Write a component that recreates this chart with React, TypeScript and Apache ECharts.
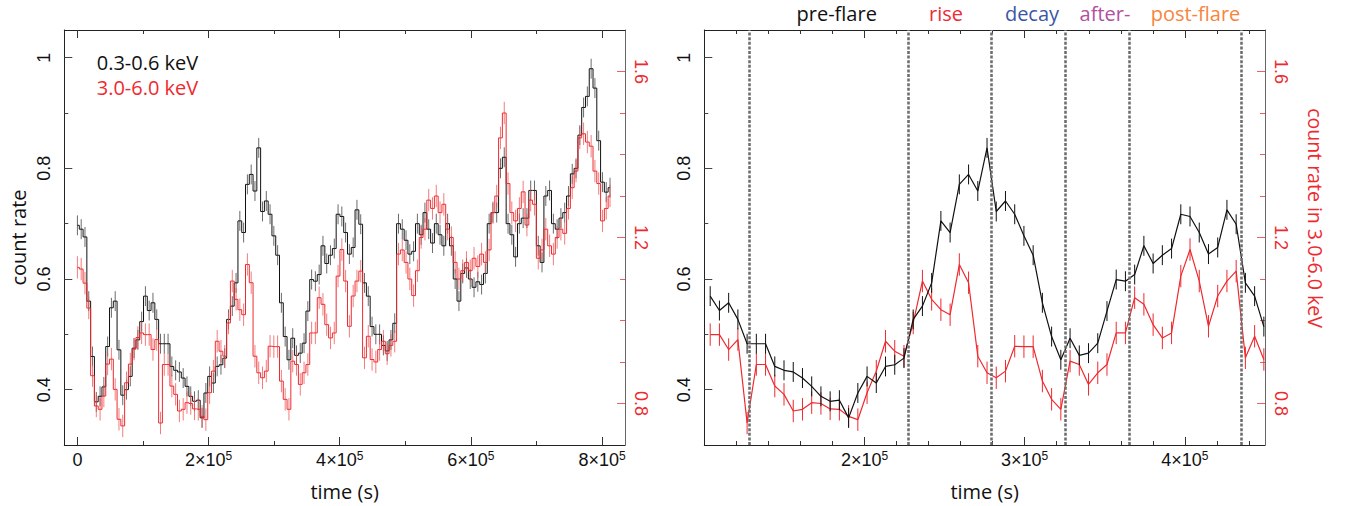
import React, { useEffect, useRef } from "react";
import * as echarts from "echarts";

// ---------------- data ----------------
const BIN = 5760; // s, light-curve bin width
const FLARE_START_INDEX = 18; // first bin shown in the zoomed panel

// 0.3-0.6 keV count rate
const SOFT_PRE = [0.697, 0.69, 0.676, 0.56, 0.46, 0.378, 0.388, 0.405, 0.478, 0.548, 0.56, 0.472, 0.39, 0.4, 0.424, 0.475, 0.49, 0.523];
const SOFT_FLARE = [
  0.569, 0.543, 0.557, 0.527, 0.483, 0.483, 0.483, 0.442, 0.435, 0.432,
  0.421, 0.406, 0.388, 0.379, 0.381, 0.349, 0.394, 0.424, 0.412, 0.442,
  0.445, 0.457, 0.527, 0.551, 0.593, 0.705, 0.684, 0.771, 0.789, 0.759,
  0.837, 0.722, 0.741, 0.717, 0.678, 0.643, 0.557, 0.496, 0.454, 0.493,
  0.462, 0.466, 0.484, 0.542, 0.599, 0.596, 0.608, 0.66, 0.628, 0.643,
  0.655, 0.717, 0.713, 0.684, 0.645, 0.657, 0.725, 0.699, 0.593, 0.569,
  0.514,
];
const SOFT_POST = [
  0.5, 0.5, 0.48, 0.47, 0.49, 0.52, 0.7, 0.69, 0.67, 0.645,
  0.65, 0.7, 0.68, 0.72, 0.69, 0.665, 0.7, 0.68, 0.66, 0.7,
  0.66, 0.6, 0.56, 0.61, 0.62, 0.6, 0.585, 0.595, 0.59, 0.61,
  0.7, 0.72, 0.72, 0.8, 0.82, 0.7, 0.68, 0.64, 0.7, 0.71,
  0.71, 0.76, 0.76, 0.66, 0.63, 0.75, 0.76, 0.7, 0.69, 0.71,
  0.72, 0.75, 0.79, 0.8, 0.86, 0.91, 0.93, 0.98, 0.945, 0.85,
  0.775, 0.757, 0.765,
];

// 3.0-6.0 keV count rate
const HARD_PRE = [1.128, 1.124, 1.09, 1.03, 0.867, 0.794, 0.786, 0.818, 0.895, 0.907, 0.834, 0.762, 0.746, 0.85, 0.895, 0.931, 0.959, 0.97];
const HARD_FLARE = [
  0.966, 0.966, 0.93, 0.954, 0.753, 0.894, 0.894, 0.842, 0.822, 0.782,
  0.786, 0.802, 0.8, 0.787, 0.786, 0.769, 0.761, 0.826, 0.878, 0.95,
  0.926, 0.914, 0.994, 1.095, 1.051, 1.026, 1.014, 1.135, 1.091, 0.914,
  0.874, 0.862, 0.878, 0.938, 0.937, 0.937, 0.854, 0.81, 0.786, 0.902,
  0.894, 0.846, 0.874, 0.894, 0.97, 0.97, 1.055, 1.039, 0.99, 0.958,
  0.97, 1.107, 1.171, 1.095, 0.986, 1.059, 1.095, 1.119, 0.91, 0.962,
  0.906,
];
const HARD_POST = [
  0.9, 0.93, 0.95, 0.92, 0.94, 0.95, 1.16, 1.17, 1.14, 1.1,
  1.06, 1.12, 1.2, 1.22, 1.29, 1.27, 1.3, 1.26, 1.28, 1.22,
  1.2, 1.14, 1.1, 1.12, 1.14, 1.12, 1.15, 1.13, 1.16, 1.14,
  1.17, 1.26, 1.3, 1.44, 1.5, 1.33, 1.26, 1.24, 1.27, 1.31,
  1.23, 1.29, 1.28, 1.15, 1.17, 1.22, 1.18, 1.16, 1.2, 1.22,
  1.21, 1.27, 1.32, 1.36, 1.44, 1.45, 1.43, 1.42, 1.36, 1.33,
  1.24, 1.27, 1.3,
];
const SOFT_ERR = 0.018;
const HARD_ERR = 0.027;

// axis ticks
const LEFT_X_MAJOR = [0, 200000, 400000, 600000, 800000];
const LEFT_X_MINOR = [100000, 300000, 500000, 700000];
const RIGHT_X_MAJOR = [200000, 300000, 400000];
const RIGHT_X_MINOR = [120000, 140000, 160000, 180000, 220000, 240000, 260000, 280000, 320000, 340000, 360000, 380000, 420000, 440000];
const SOFT_MAJOR = [0.4, 0.6, 0.8, 1.0];
const SOFT_MINOR = [0.5, 0.7, 0.9];
const HARD_MAJOR = [0.8, 1.2, 1.6];
const HARD_MINOR = [0.9, 1.0, 1.1, 1.3, 1.4, 1.5];

// flare phases (zoomed panel)
const PHASE_BOUNDS = [128100, 227000, 279000, 325200, 365500, 435000];
const PHASE_LABELS = ["pre-flare", "rise", "decay", "after-", "post-flare"];
const LEGEND_LABELS = ["0.3-0.6 keV", "3.0-6.0 keV"];
const HARD_TITLE = "count rate in 3.0-6.0 keV";

// ---------------- styling ----------------
const NUM_FONT = "Liberation Sans";
const TXT_FONT = "Open Sans";
const RED = "#ee2a2f";
const BLACK = "#111111";
const PHASE_COLORS = ["#111111", "#ee2b34", "#3b56a6", "#b24f9f", "#f8853b"];
const PHASE_X = [836.7, 946, 1032, 1105, 1195.5];

const soft = [...SOFT_PRE, ...SOFT_FLARE, ...SOFT_POST];
const hard = [...HARD_PRE, ...HARD_FLARE, ...HARD_POST];
const softAll = soft.map((v, i) => [i * BIN, v]);
const hardAll = hard.map((v, i) => [i * BIN, v]);
const softFlare = SOFT_FLARE.map((v, k) => [(k + FLARE_START_INDEX) * BIN, v]);
const hardFlare = HARD_FLARE.map((v, k) => [(k + FLARE_START_INDEX) * BIN, v]);

const xFmt = (v: number) => {
  if (v === 0) return "{n|0}";
  return `{n|${Math.round(v / 1e5)}×10}{s|5}`;
};
const yFmt = (v: number) => String(Math.round(v * 10) / 10);

function xAxes(grid: number, min: number, max: number, major: number[], minor: number[], withName: boolean) {
  const base = {
    type: "value",
    gridIndex: grid,
    min,
    max,
    splitLine: { show: false },
    axisLine: { onZero: false, show: true, lineStyle: { color: "#222", width: 1 } },
  };
  return [
    {
      ...base,
      position: "bottom",
      axisTick: { show: true, inside: true, length: 8, customValues: major, lineStyle: { color: "#333" } },
      axisLabel: {
        show: true,
        customValues: major,
        margin: 5,
        formatter: xFmt,
        rich: {
          n: { fontFamily: NUM_FONT, fontSize: 18, lineHeight: 20, color: BLACK },
          s: { fontFamily: NUM_FONT, fontSize: 12, lineHeight: 12, verticalAlign: "top", color: BLACK },
        },
      },
      name: withName ? "time (s)" : "",
      nameLocation: "middle",
      nameGap: 36,
      nameTextStyle: { fontFamily: TXT_FONT, fontSize: 20, color: BLACK },
    },
    {
      ...base,
      position: "bottom",
      axisLine: { show: false, onZero: false },
      axisTick: { show: true, inside: true, length: 4, customValues: minor, lineStyle: { color: "#333" } },
      axisLabel: { show: false },
    },
    {
      ...base,
      position: "top",
      axisTick: { show: true, inside: true, length: 8, customValues: major, lineStyle: { color: "#333" } },
      axisLabel: { show: false },
    },
    {
      ...base,
      position: "top",
      axisLine: { show: false, onZero: false },
      axisTick: { show: true, inside: true, length: 4, customValues: minor, lineStyle: { color: "#333" } },
      axisLabel: { show: false },
    },
  ];
}

function yAxes(grid: number, leftName: string) {
  return [
    {
      type: "value",
      gridIndex: grid,
      position: "left",
      min: 0.3,
      max: 1.05,
      splitLine: { show: false },
      axisLine: { show: true, onZero: false, lineStyle: { color: "#222" } },
      axisTick: { show: true, inside: true, length: 8, customValues: SOFT_MAJOR, lineStyle: { color: "#444" } },
      axisLabel: {
        show: true,
        customValues: SOFT_MAJOR,
        rotate: 90,
        margin: 11,
        formatter: yFmt,
        fontFamily: NUM_FONT,
        fontSize: 18,
        lineHeight: 18,
        color: BLACK,
      },
      name: leftName,
      nameLocation: "middle",
      nameRotate: 90,
      nameGap: 36,
      nameTextStyle: { fontFamily: TXT_FONT, fontSize: 20, color: BLACK },
    },
    {
      type: "value",
      gridIndex: grid,
      position: "left",
      min: 0.3,
      max: 1.05,
      splitLine: { show: false },
      axisLine: { show: false, onZero: false },
      axisTick: { show: true, inside: true, length: 4, customValues: SOFT_MINOR, lineStyle: { color: "#444" } },
      axisLabel: { show: false },
    },
    {
      type: "value",
      gridIndex: grid,
      position: "right",
      min: 0.7,
      max: 1.7,
      splitLine: { show: false },
      axisLine: { show: true, onZero: false, lineStyle: { color: "#666" } },
      axisTick: { show: true, inside: true, length: 8, customValues: HARD_MAJOR, lineStyle: { color: "#f06060" } },
      axisLabel: {
        show: true,
        customValues: HARD_MAJOR,
        rotate: -90,
        margin: 7,
        formatter: yFmt,
        fontFamily: NUM_FONT,
        fontSize: 18,
        lineHeight: 18,
        color: RED,
      },
    },
    {
      type: "value",
      gridIndex: grid,
      position: "right",
      min: 0.7,
      max: 1.7,
      splitLine: { show: false },
      axisLine: { show: false, onZero: false },
      axisTick: { show: true, inside: true, length: 5, customValues: HARD_MINOR, lineStyle: { color: "#f06060" } },
      axisLabel: { show: false },
    },
  ];
}

function errorSeries(data: number[][], err: number, xi: number, yi: number, color: string, z: number) {
  return {
    type: "custom",
    xAxisIndex: xi,
    yAxisIndex: yi,
    clip: true,
    z,
    silent: true,
    encode: { x: 0, y: 1 },
    data: data.map((d) => [d[0], d[1], err]),
    renderItem: (_p: any, api: any) => {
      const t = api.value(0);
      const v = api.value(1);
      const e = api.value(2);
      const a = api.coord([t, v + e]);
      const b = api.coord([t, v - e]);
      return {
        type: "line",
        shape: { x1: a[0], y1: a[1], x2: b[0], y2: b[1] },
        style: { stroke: color, lineWidth: 1 },
      };
    },
  };
}

export default function App() {
  const ref = useRef<HTMLDivElement | null>(null);
  useEffect(() => {
    if (!ref.current) return;
    const chart = echarts.init(ref.current, undefined, { renderer: "svg" });
    const option: any = {
      animation: false,
      backgroundColor: "#ffffff",
      grid: [
        { left: 64.3, right: 1346 - 625, top: 30, bottom: 60, containLabel: false },
        { left: 704.3, right: 1346 - 1265, top: 30, bottom: 60, containLabel: false },
      ],
      xAxis: [
        ...xAxes(0, -20000, 835000, LEFT_X_MAJOR, LEFT_X_MINOR, true),
        ...xAxes(1, 100000, 450000, RIGHT_X_MAJOR, RIGHT_X_MINOR, true),
      ],
      yAxis: [...yAxes(0, "count rate"), ...yAxes(1, "")],
      series: [
        // left panel: step light curves
        errorSeries(softAll, SOFT_ERR, 0, 0, "rgba(70,70,70,0.8)", 2),
        {
          type: "line",
          xAxisIndex: 0,
          yAxisIndex: 0,
          step: "middle",
          data: softAll,
          showSymbol: false,
          symbol: "none",
          lineStyle: { color: BLACK, width: 1 },
          z: 3,
          silent: true,
        },
        errorSeries(hardAll, HARD_ERR, 0, 2, "rgba(240,80,80,0.75)", 4),
        {
          type: "line",
          xAxisIndex: 0,
          yAxisIndex: 2,
          step: "middle",
          data: hardAll,
          showSymbol: false,
          symbol: "none",
          lineStyle: { color: RED, width: 1 },
          z: 5,
          silent: true,
        },
        // right panel: zoom on the flare
        {
          type: "line",
          xAxisIndex: 4,
          yAxisIndex: 6,
          data: hardFlare,
          showSymbol: false,
          symbol: "none",
          clip: true,
          lineStyle: { color: RED, width: 1.2 },
          z: 3,
          silent: true,
        },
        errorSeries(hardFlare, HARD_ERR, 4, 6, RED, 3),
        {
          type: "line",
          xAxisIndex: 4,
          yAxisIndex: 4,
          data: softFlare,
          showSymbol: false,
          symbol: "none",
          clip: true,
          lineStyle: { color: BLACK, width: 1.2 },
          z: 4,
          silent: true,
          markLine: {
            silent: true,
            symbol: ["none", "none"],
            label: { show: false },
            lineStyle: { color: "#6f6f6f", type: [3, 1.6], width: 2.6 },
            data: PHASE_BOUNDS.map((b) => ({ xAxis: b })),
          },
        },
        errorSeries(softFlare, SOFT_ERR, 4, 4, BLACK, 4),
      ],
      graphic: [
        ...LEGEND_LABELS.map((t, i) => ({
          type: "text",
          x: 96.7,
          y: 62.5 + i * 25,
          style: {
            text: t,
            fill: i === 0 ? BLACK : RED,
            fontFamily: TXT_FONT,
            fontSize: 20,
            textAlign: "left",
            textVerticalAlign: "middle",
          },
        })),
        ...PHASE_LABELS.map((t, i) => ({
          type: "text",
          x: PHASE_X[i],
          y: 13,
          style: {
            text: t,
            fill: PHASE_COLORS[i],
            fontFamily: TXT_FONT,
            fontSize: 20,
            textAlign: "center",
            textVerticalAlign: "middle",
          },
        })),
        {
          type: "text",
          x: 1315,
          y: 218,
          rotation: -Math.PI / 2,
          style: {
            text: HARD_TITLE,
            fill: RED,
            fontFamily: TXT_FONT,
            fontSize: 19.5,
            textAlign: "center",
            textVerticalAlign: "middle",
          },
        },
      ],
    };
    chart.setOption(option);
    return () => chart.dispose();
  }, []);
  return (
    <div
      ref={ref}
      style={{ position: "absolute", left: 0, top: 0, width: 1346, height: 506, background: "#fff" }}
    />
  );
}
